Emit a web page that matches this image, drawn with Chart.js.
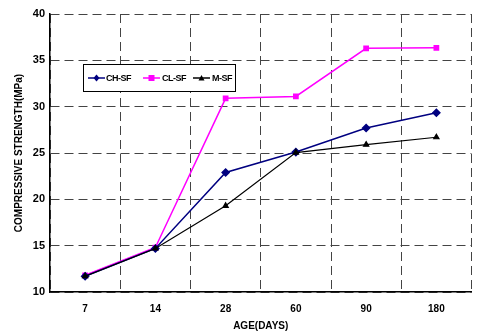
<!DOCTYPE html>
<html><head><meta charset="utf-8">
<script src="https://cdn.jsdelivr.net/npm/chart.js@4/dist/chart.umd.min.js"></script>
<style>html,body{margin:0;padding:0;background:#fff}#wrap{width:477px;height:335px}</style>
</head><body><div id="wrap"><canvas id="c" width="477" height="335"></canvas></div>
<script>
const categories = ['7','14','28','60','90','180'];
const chSF = [11.7, 14.7, 22.9, 25.1, 27.7, 29.35];
const clSF = [11.8, 14.8, 30.9, 31.1, 36.3, 36.35];
const mSF  = [11.7, 14.7, 19.3, 25.05, 25.9, 26.7];
const seriesNames = ['CH-SF','CL-SF','M-SF'];
const yTicks = [10,15,20,25,30,35,40];

const FONT = 'Arial, "Liberation Sans", sans-serif';

const legendPlugin = {
  id: 'boxLegend',
  afterDraw(chart) {
    const ctx = chart.ctx;
    const x0 = 83.5, y0 = 64.5, w = 152, h = 27;
    ctx.save();
    ctx.fillStyle = '#fff';
    ctx.fillRect(x0, y0, w, h);
    ctx.strokeStyle = '#000';
    ctx.lineWidth = 1;
    ctx.strokeRect(x0, y0, w, h);
    const items = [{lx: 88, tx: 106}, {lx: 143, tx: 162}, {lx: 193, tx: 212}];
    const cy = y0 + h / 2;
    chart.data.datasets.forEach((ds, i) => {
      const it = items[i];
      ctx.strokeStyle = ds.borderColor;
      ctx.fillStyle = ds.borderColor;
      ctx.lineWidth = 1.5;
      ctx.beginPath(); ctx.moveTo(it.lx, cy); ctx.lineTo(it.lx + 17, cy); ctx.stroke();
      const mx = it.lx + 8.5, r = 3;
      ctx.beginPath();
      if (ds.pointStyle === 'rect') { ctx.rect(mx - r, cy - r, 2 * r, 2 * r); }
      else if (ds.pointStyle === 'rectRot') { ctx.moveTo(mx, cy - r - 0.5); ctx.lineTo(mx + r, cy); ctx.lineTo(mx, cy + r + 0.5); ctx.lineTo(mx - r, cy); ctx.closePath(); }
      else { ctx.moveTo(mx, cy - r); ctx.lineTo(mx + r, cy + r * 0.8); ctx.lineTo(mx - r, cy + r * 0.8); ctx.closePath(); }
      ctx.fill();
      ctx.fillStyle = '#000';
      ctx.font = 'bold 9px ' + FONT;
      if ('letterSpacing' in ctx) ctx.letterSpacing = '-0.5px';
      ctx.textBaseline = 'middle';
      ctx.textAlign = 'left';
      ctx.fillText(ds.label, it.tx, cy + 0.5);
      if ('letterSpacing' in ctx) ctx.letterSpacing = '0px';
    });
    ctx.restore();
  }
};

new Chart(document.getElementById('c'), {
  type: 'line',
  data: {
    labels: categories,
    datasets: [
      {label: seriesNames[0], data: chSF, borderColor: '#000080', backgroundColor: '#000080', pointStyle: 'rectRot', pointRadius: 3.5, borderWidth: 1.5, order: 1},
      {label: seriesNames[1], data: clSF, borderColor: '#FF00FF', backgroundColor: '#FF00FF', pointStyle: 'rect', pointRadius: 3, borderWidth: 1.5, order: 2},
      {label: seriesNames[2], data: mSF, borderColor: '#000000', backgroundColor: '#000000', pointStyle: 'triangle', pointRadius: 3, borderWidth: 1.2, order: 0}
    ]
  },
  options: {
    responsive: false,
    animation: false,
    devicePixelRatio: 1,
    layout: {padding: {top: 14, right: 2, left: 0, bottom: 0}},
    plugins: {legend: {display: false}, tooltip: {enabled: false}},
    elements: {line: {tension: 0}, point: {borderWidth: 1}},
    scales: {
      x: {
        offset: true,
        grid: {offset: true, color: '#444', lineWidth: 1, drawTicks: false},
        border: {display: true, color: '#000', width: 1.5, dash: [9, 5]},
        ticks: {color: '#000', font: {family: FONT, size: 10, weight: 'bold'}, padding: 11, maxRotation: 0},
        title: {display: true, text: 'AGE(DAYS)', color: '#000', font: {family: FONT, size: 10, weight: 'bold'}, padding: {top: 0, bottom: 3}},
        afterFit(s) { s.height = 43; }
      },
      y: {
        min: 10, max: 40,
        afterBuildTicks(s) { s.ticks = yTicks.map(v => ({value: v})); },
        grid: {color: '#444', lineWidth: 1, drawTicks: false},
        border: {display: true, color: '#000', width: 1.5, dash: [9, 5]},
        ticks: {color: '#000', font: {family: FONT, size: 11, weight: 'bold'}, padding: 5},
        title: {display: true, text: 'COMPRESSIVE STRENGTH(MPa)', color: '#000', font: {family: FONT, size: 10, weight: 'bold'}, padding: {top: 13, bottom: 0}},
        afterFit(s) { s.width = 50; }
      }
    }
  },
  plugins: [legendPlugin]
});
</script></body></html>
